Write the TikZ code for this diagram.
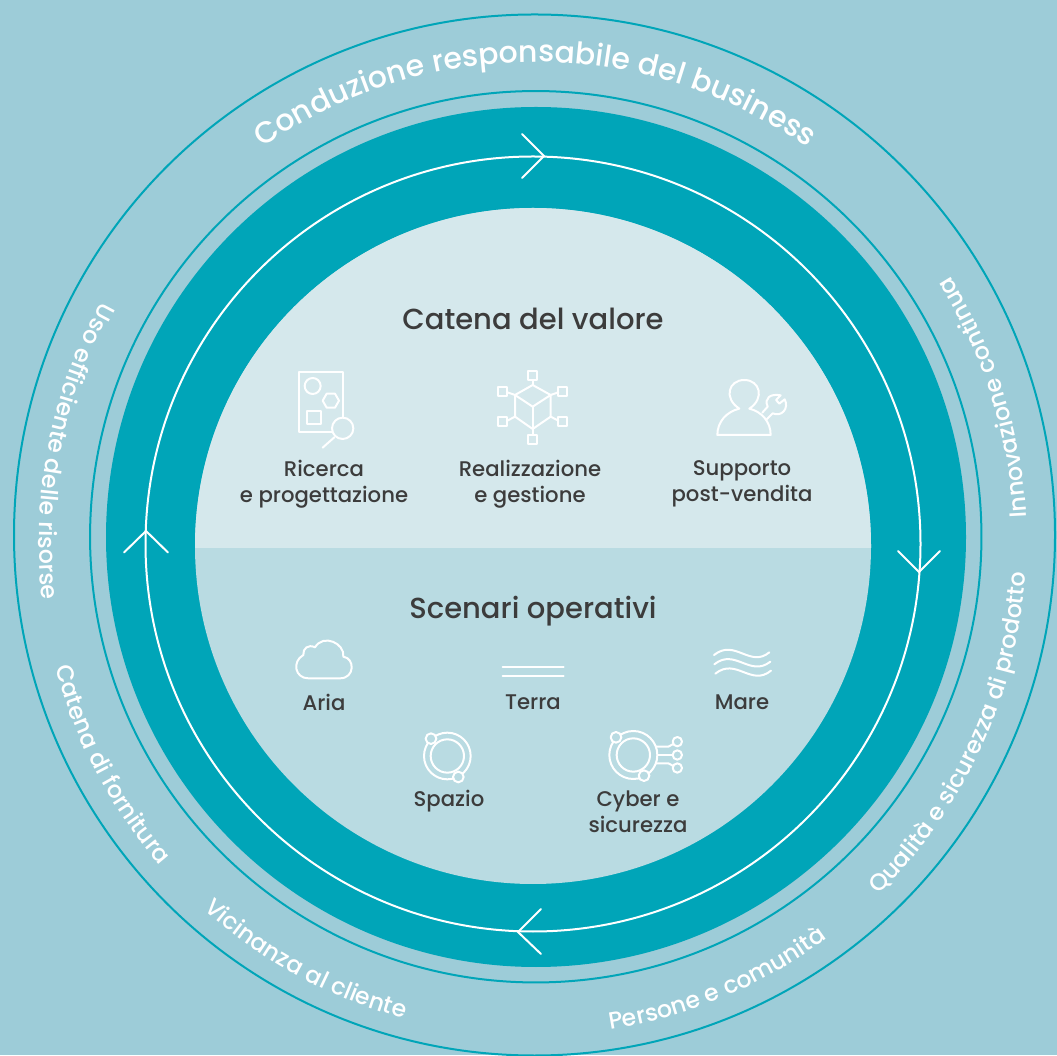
\documentclass[tikz,border=0pt]{standalone}
\usepackage{fontspec}
\setmainfont{Poppins}[UprightFont=* Medium,BoldFont=* SemiBold]
\usetikzlibrary{decorations.text}
\definecolor{bgc}{HTML}{9DCCD8}
\definecolor{teal1}{HTML}{00A5B8}
\definecolor{diskT}{HTML}{D5E8EC}
\definecolor{diskB}{HTML}{B9DBE2}
\definecolor{ink}{HTML}{3C3C3C}
\newcommand{\ringtext}[3]{%
  \path[decorate,decoration={text along path,text align=center,
    text={|\color{white}\fontsize{23.6}{24}\selectfont|#3}}]
    ($(533,513.5)+(#1:494)$) arc[start angle=#1,end angle=#2,radius=494pt];}
\usetikzlibrary{calc}
\tikzset{
  zz/.style 2 args={shift={(#1,1055-#2)},x=0.33333pt,y=-0.33333pt},
  ico/.style={draw=white,line width=2pt,line join=round,line cap=round},
  head/.style={font=\fontsize{29}{32}\selectfont,text=ink,inner sep=0pt,anchor=center},
  lab/.style={font=\fontsize{21.2}{26}\selectfont,text=ink,inner sep=0pt,align=center,anchor=center},
  arr/.style={draw=white,line width=2pt,line cap=round,line join=miter}
}
\begin{document}
\begin{tikzpicture}[x=1pt,y=1pt]
\useasboundingbox (0,0) rectangle (1057,1055);
\clip (0,0) rectangle (1057,1055);
\fill[bgc] (0,0) rectangle (1057,1055);
% rings
\draw[teal1,line width=2pt] (534.5,520) circle[radius=520.5pt];
\draw[teal1,line width=2pt] (535.75,518.25) circle[radius=445.7pt];
\fill[teal1] (536,518) circle[radius=430pt];
\fill[diskB] (533,509) circle[radius=338pt];
\begin{scope}
  \clip (0,507) rectangle (1057,1055);
  \fill[diskT] (533,509) circle[radius=338pt];
\end{scope}
\draw[white,line width=2pt] (533,511) circle[radius=387.5pt];
% arrows
\coordinate (t0) at (544,899);
\draw[arr] (522,921) -- (t0) -- (522,877);
\coordinate (r0) at (919,483);
\draw[arr] (898,504) -- (r0) -- (940,504);
\coordinate (b0) at (518,123);
\draw[arr] (541,146) -- (b0) -- (541,101);
\coordinate (l0) at (146,524);
\draw[arr] (124,502.5) -- (l0) -- (168,502.5);
% top text
\path[decorate,decoration={text along path,text align=center,
   text={|\color{white}\fontsize{30}{30}\selectfont|Conduzione responsabile del business}}]
   ($(535,517)+(125:476)$) arc[start angle=125,end angle=55,radius=476pt];
% ring texts
\ringtext{3}{32.3}{Innovazione continua}
\ringtext{-46}{-3.3}{Qualità e sicurezza di prodotto}
\ringtext{-81.2}{-53.3}{Persone e comunità}
\ringtext{228}{255}{Vicinanza al cliente}
\ringtext{194.8}{220.9}{Catena di fornitura}
\ringtext{150.8}{187}{Uso efficiente delle risorse}
% headings
\node[head] (hA) at (533,736) {Catena del valore};
\node[head] (hB) at (533,444) {Scenari operativi};
% labels
\node[lab] (l1) at (324,571) {Ricerca\\e progettazione};
\node[lab] (l2) at (530,571) {Realizzazione\\e gestione};
\node[lab] (l3) at (742,571) {Supporto\\post-vendita};
\node[lab] (l4) at (324,353) {Aria};
\node[lab] (l5) at (533,353) {Terra};
\node[lab] (l6) at (742,353) {Mare};
\node[lab] (l7) at (449,254) {Spazio};
\node[lab] (l8) at (638,243) {Cyber e\\sicurezza};
% icon: ricerca
\begin{scope}[zz={220}{360}]
  \draw[ico] (370,170) -- (370,36) -- (238,36) -- (238,216) -- (337,216);
  \draw[ico] (278,78) circle[radius=24];
  \draw[ico] (308,122) -- (320,101) -- (345,101) -- (357,122) -- (345,143) -- (320,143) -- cycle;
  \draw[ico] (260,152) rectangle (303,193);
  \draw[ico] (368,205) circle[radius=32];
  \draw[ico] (343,232) -- (308,263);
\end{scope}
% icon: cube
\begin{scope}[zz={220}{360}]
  \draw[ico] (938,75) -- (885,105) -- (938,140) -- (992,105) -- cycle;
  \draw[ico] (885,105) -- (885,170) -- (938,207) -- (992,170) -- (992,105);
  \draw[ico] (938,140) -- (938,207);
  \draw[ico] (925,33) rectangle (951,60);
  \draw[ico] (925,225) rectangle (951,251);
  \draw[ico] (835,81) rectangle (862,107);
  \draw[ico] (835,172) rectangle (862,198);
  \draw[ico] (1015,81) rectangle (1042,107);
  \draw[ico] (1015,172) rectangle (1042,198);
  \draw[ico] (938,60) -- (938,75);
  \draw[ico] (938,207) -- (938,225);
  \draw[ico] (862,97) -- (885,105);
  \draw[ico] (862,182) -- (885,170);
  \draw[ico] (1015,97) -- (992,105);
  \draw[ico] (1015,182) -- (992,170);
\end{scope}
% icon: person + wrench
\begin{scope}[zz={660}{360}]
  \draw[ico] (238,146) .. controls (190,115) and (205,60) .. (253,60)
     .. controls (300,60) and (315,115) .. (268,146)
     .. controls (305,155) and (332,185) .. (332,225) -- (172,225)
     .. controls (172,185) and (200,155) .. (238,146);
  \draw[ico] (307,158) -- (323,140) .. controls (312,115) and (330,100) .. (362,106)
     -- (348,120) -- (358,131) -- (374,118) .. controls (388,145) and (365,172) .. (338,160) -- (320,178);
\end{scope}
% icon: cloud
\begin{scope}[zz={280}{630}]
  \draw[ico] (85,145) -- (180,145) .. controls (225,145) and (225,85) .. (190,80)
     .. controls (195,40) and (130,10) .. (105,52)
     .. controls (85,42) and (68,55) .. (70,75)
     .. controls (35,95) and (45,145) .. (85,145);
  \draw[ico] (668,110) -- (851,110);
  \draw[ico] (668,137) -- (851,137);
  % spazio
  \draw[ico] (502,378) circle[radius=70];
  \draw[ico] (502,378) circle[radius=50];
  \draw[ico,fill=diskB] (453,326) circle[radius=16];
  \draw[ico,fill=diskB] (535,441) circle[radius=16];
\end{scope}
% icon: mare + cyber
\begin{scope}[zz={590}{630}]
  \draw[ico] (372,75) .. controls (435,25) and (480,115) .. (538,67);
  \draw[ico] (373,103) .. controls (435,53) and (480,143) .. (541,95);
  \draw[ico] (376,131) .. controls (438,81) and (483,171) .. (543,122);
  \draw[ico] (130,375) circle[radius=72];
  \draw[ico] (130,375) circle[radius=50];
  \draw[ico,fill=diskB] (78,322) circle[radius=16];
  \draw[ico,fill=diskB] (162,437) circle[radius=16];
  \draw[ico] (262,335) circle[radius=14];
  \draw[ico] (262,375) circle[radius=14];
  \draw[ico] (262,414) circle[radius=14];
  \draw[ico] (198,350) -- (235,350) -- (250,342);
  \draw[ico] (202,375) -- (248,375);
  \draw[ico] (198,400) -- (235,400) -- (250,408);
\end{scope}
\end{tikzpicture}
\end{document}
